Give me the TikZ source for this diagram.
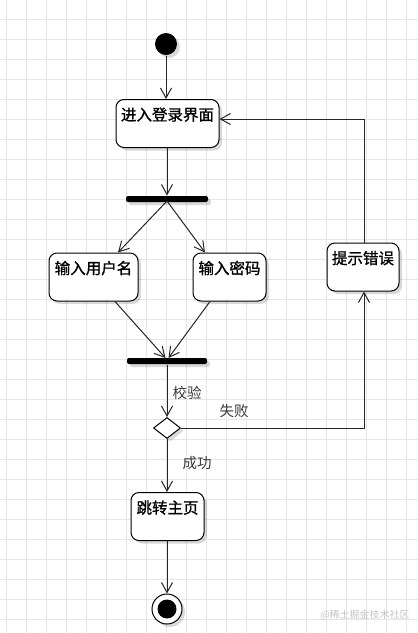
\documentclass[tikz,border=0pt]{standalone}
\usepackage{fontspec}
\setmainfont{Noto Sans CJK SC}
\newfontfamily\boxfont[FakeBold=1.2]{Noto Sans CJK SC}
\usetikzlibrary{arrows.meta,shapes.geometric,shadows}
\definecolor{gridc}{HTML}{E6E6E6}
\definecolor{linec}{HTML}{262626}
\definecolor{labc}{HTML}{3A3A3A}
\definecolor{wmark}{HTML}{C4C4C4}
\begin{document}
\begin{tikzpicture}[x=1pt,y=-1pt,line width=1pt,
  gridline/.style={draw=gridc,line width=0.8pt},
  shad/.style={drop shadow={shadow xshift=3pt,shadow yshift=-3pt,opacity=0.15,fill=black}},
  act/.style={draw=black,rounded corners=8pt,fill=white,inner sep=0pt,
    text height=21pt,text depth=27pt,minimum height=48pt,
    font=\boxfont\fontsize{15.5}{15.5}\selectfont,shad},
  bar/.style={rectangle,fill=black,minimum height=6pt,inner sep=0pt,rounded corners=2pt,shad},
  arr/.style={draw=linec,-{Straight Barb[length=10pt,width=11pt,line width=1pt]}},
  lab/.style={text=labc,font=\fontsize{14.5}{14.5}\selectfont,inner sep=0pt}
]
\useasboundingbox (0,0) rectangle (418,633);
\fill[white] (0,0) rectangle (418,633);
\foreach \i in {0,...,20} \draw[gridline] (6.5+20*\i,0) -- (6.5+20*\i,633);
\foreach \j in {1,...,31} \draw[gridline] (0,-0.5+20*\j) -- (418,-0.5+20*\j);

% nodes
\node[circle,fill=black,minimum size=22pt,inner sep=0pt,shad] (start) at (166,44) {};
\node[act,minimum width=103pt] (b1) at (167.5,123.5) {进入登录界面};
\node[bar,minimum width=82pt] (fork) at (167,199) {};
\node[act,minimum width=89pt] (b2) at (93.5,277) {输入用户名};
\node[act,minimum width=73pt] (b3) at (229.5,277) {输入密码};
\node[act,minimum width=72pt] (b4) at (363,267) {提示错误};
\node[bar,minimum width=80pt] (join) at (167,361) {};
\node[diamond,draw=black,fill=white,minimum width=27pt,minimum height=21pt,inner sep=0pt,shad] (d) at (167,428) {};
\node[act,minimum width=73pt] (b5) at (167.5,516.5) {跳转主页};
\node[circle,draw=black,fill=white,minimum size=30pt,inner sep=0pt,shad,
  path picture={\fill[black] (path picture bounding box.center) circle (9.5pt);}] (end) at (167,609) {};

% connectors
\draw[arr] (start.south) -- (start.south |- b1.north);
\draw[arr] (b1.south -| fork) -- (fork.north);
\coordinate (f1) at (167,201);
\draw[arr] (f1) -- ([xshift=24.5pt]b2.north);
\draw[arr] (f1) -- ([xshift=-24.5pt]b3.north);
\coordinate (j1) at (165.5,358);
\coordinate (j2) at (168.5,358);
\draw[arr] ([xshift=21.5pt]b2.south) -- (j1);
\draw[arr] ([xshift=-19.5pt]b3.south) -- (j2);
\draw[arr] (join.south) -- (d.north);
\draw[arr] (d.east) -| ([xshift=1pt]b4.south);
\draw[arr] ([xshift=1pt]b4.north) |- ([yshift=4.5pt]b1.east);
\draw[arr] (d.south) -- (d.south |- b5.north);
\draw[arr] (b5.south -| end) -- (end.north);

% labels
\node[lab,anchor=west] (l1) at (172,393) {校验};
\node[lab] (l2) at (234,411) {失败};
\node[lab] (l3) at (197,463) {成功};
\node[text=wmark,font=\fontsize{10}{10}\selectfont,inner sep=0pt] (wm) at (365,615) {@稀土掘金技术社区};
\end{tikzpicture}
\end{document}
